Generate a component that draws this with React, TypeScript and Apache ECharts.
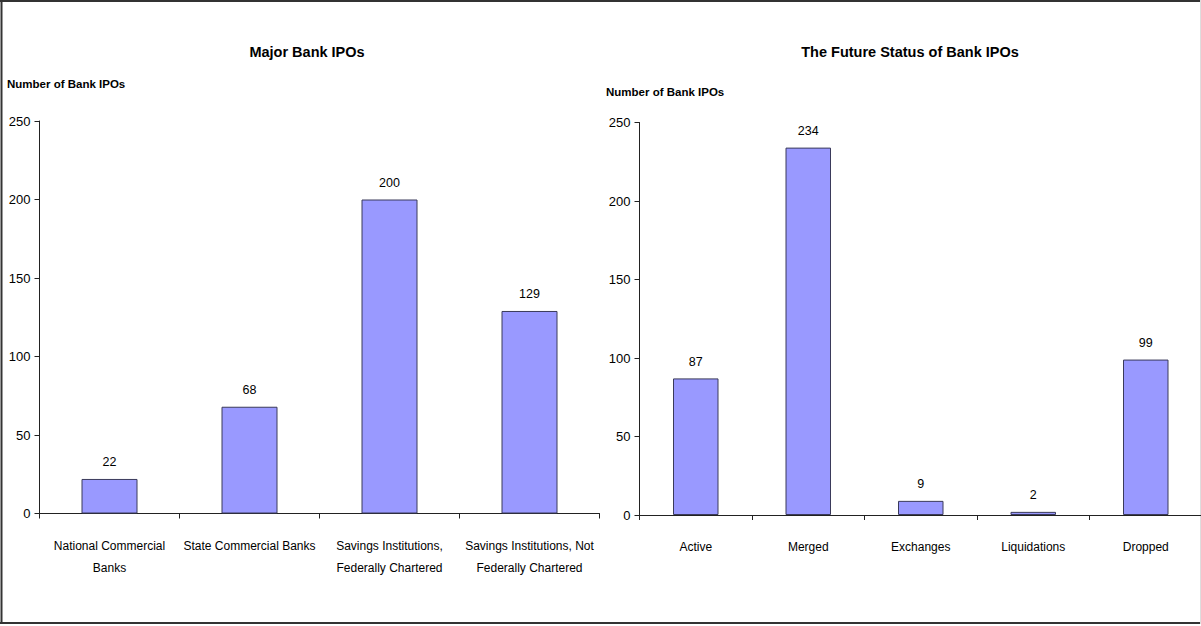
import React, { useEffect, useRef } from "react";
import * as echarts from "echarts";

// Left panel: major bank IPOs by charter type
const majorCategories = [
  "National Commercial\nBanks",
  "State Commercial Banks",
  "Savings Institutions,\nFederally Chartered",
  "Savings Institutions, Not\nFederally Chartered",
];
const majorValues = [22, 68, 200, 129];

// Right panel: what later happened to the bank IPOs
const statusCategories = ["Active", "Merged", "Exchanges", "Liquidations", "Dropped"];
const statusValues = [87, 234, 9, 2, 99];

const leftTitle = "Major Bank IPOs";
const rightTitle = "The Future Status of Bank IPOs";
const yAxisName = "Number of Bank IPOs";

const FONT = "'Liberation Sans Narrow', 'Arial Narrow', 'Liberation Sans', Arial, sans-serif";
const BAR_COLOR = "#9999ff";
const BAR_BORDER = "#3a3a5a";
const AXIS_COLOR = "#222";

function makeYAxis(gridIndex: number) {
  return {
    type: "value" as const,
    gridIndex,
    min: 0,
    max: 250,
    interval: 50,
    axisLine: { show: true, lineStyle: { color: AXIS_COLOR, width: 1 } },
    axisTick: { show: true, inside: false, length: 5, lineStyle: { color: AXIS_COLOR } },
    splitLine: { show: false },
    axisLabel: { color: "#000", fontFamily: FONT, fontSize: 13, margin: 9 },
  };
}

function makeXAxis(gridIndex: number, data: string[]) {
  return {
    type: "category" as const,
    gridIndex,
    data,
    boundaryGap: true,
    axisLine: { show: true, lineStyle: { color: AXIS_COLOR, width: 1 } },
    axisTick: { show: true, inside: false, length: 5, alignWithLabel: false, lineStyle: { color: AXIS_COLOR } },
    axisLabel: {
      color: "#000",
      fontFamily: FONT,
      fontSize: 12,
      lineHeight: 22,
      margin: 21,
      interval: 0,
    },
  };
}

function makeBars(xAxisIndex: number, data: number[], barWidth: number) {
  return {
    type: "bar" as const,
    xAxisIndex,
    yAxisIndex: xAxisIndex,
    data,
    barWidth,
    itemStyle: { color: BAR_COLOR, borderColor: BAR_BORDER, borderWidth: 1 },
    label: {
      show: true,
      position: "top" as const,
      distance: 10,
      color: "#000",
      fontFamily: FONT,
      fontSize: 12.5,
    },
  };
}

const titleText = { fontFamily: FONT, fontSize: 14.5, fontWeight: "bold" as const, color: "#000" };
const nameText = { fontFamily: FONT, fontSize: 11.5, fontWeight: "bold" as const, color: "#000" };

export default function App() {
  const ref = useRef<HTMLDivElement>(null);

  useEffect(() => {
    document.body.style.margin = "0";
    if (!ref.current) return;
    const chart = echarts.init(ref.current, null, { renderer: "svg" });
    chart.setOption({
      animation: false,
      backgroundColor: "#fff",
      grid: [
        { left: 39.5, top: 121, width: 560, height: 392.5 },
        { left: 639.5, top: 122.5, width: 562.5, height: 392.5 },
      ],
      title: [
        { text: leftTitle, left: 307, top: 44, padding: 0, textAlign: "center", textStyle: titleText },
        { text: rightTitle, left: 910, top: 44, padding: 0, textAlign: "center", textStyle: titleText },
        { text: yAxisName, left: 7, top: 78, padding: 0, textStyle: nameText },
        { text: yAxisName, left: 606, top: 86, padding: 0, textStyle: nameText },
      ],
      xAxis: [makeXAxis(0, majorCategories), makeXAxis(1, statusCategories)],
      yAxis: [makeYAxis(0), makeYAxis(1)],
      series: [makeBars(0, majorValues, 56), makeBars(1, statusValues, 45.5)],
      graphic: [
        // frame around the whole figure
        { type: "line", shape: { x1: 0, y1: 1, x2: 1201, y2: 1 }, style: { stroke: "#333", lineWidth: 2 } },
        { type: "line", shape: { x1: 1.5, y1: 0, x2: 1.5, y2: 624 }, style: { stroke: "#333", lineWidth: 2 } },
        { type: "line", shape: { x1: 0, y1: 623, x2: 1201, y2: 623 }, style: { stroke: "#333", lineWidth: 2 } },
        { type: "line", shape: { x1: 1200.5, y1: 0, x2: 1200.5, y2: 624 }, style: { stroke: "#ddd", lineWidth: 1 } },
      ],
    });
    return () => chart.dispose();
  }, []);

  return (
    <div style={{ position: "relative", width: 1201, height: 626, overflow: "hidden", background: "#fff" }}>
      <div ref={ref} style={{ position: "absolute", left: 0, top: 0, width: 1206, height: 626 }} />
    </div>
  );
}
